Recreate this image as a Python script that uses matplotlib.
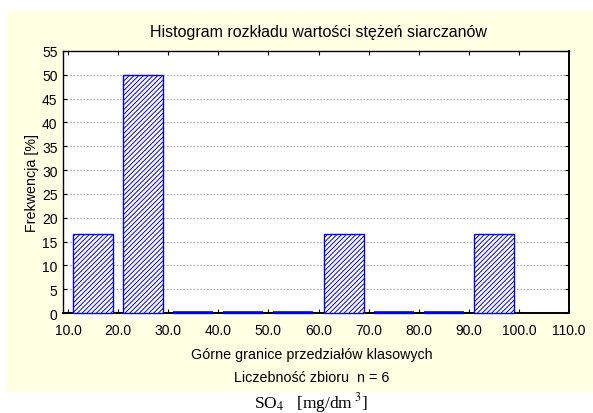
import matplotlib
matplotlib.use("Agg")
import matplotlib.pyplot as plt
from matplotlib.patches import Rectangle
import numpy as np

plt.rcParams['font.family'] = ['Liberation Sans', 'DejaVu Sans']
plt.rcParams['hatch.color'] = '#0000ff'
plt.rcParams['hatch.linewidth'] = 0.7

# data
class_lower = [10, 20, 30, 40, 50, 60, 70, 80, 90]
frequency = [16.67, 50.0, 0.0, 0.0, 0.0, 16.67, 0.0, 0.0, 16.67]
x_tick_values = [10, 20, 30, 40, 50, 60, 70, 80, 90, 100, 110]
x_tick_labels = ["10.0", "20.0", "30.0", "40.0", "50.0", "60.0", "70.0", "80.0", "90.0", "100.0", "110.0"]
y_ticks = list(range(0, 56, 5))

W, H = 593, 414
fig = plt.figure(figsize=(W/100, H/100), dpi=100)
fig.patch.set_facecolor('white')

# yellow panel
fig.patches.append(Rectangle((7/W, 1-393/H), (593-7)/W, (393-11)/H,
                             transform=fig.transFigure, facecolor='#ffffe3',
                             edgecolor='none', zorder=-5))

left, right, top, bottom = 63, 569, 52, 314
ax = fig.add_axes([left/W, 1-bottom/H, (right-left)/W, (bottom-top)/H])
ax.set_zorder(2)
ax.set_facecolor('white')

for s in ax.spines.values():
    s.set_linewidth(1.0)
    s.set_color('black')
    s.set_zorder(2)
ax.spines['right'].set_linewidth(1.4)
ax.spines['bottom'].set_linewidth(1.4)

centers = [c + 5 for c in class_lower]
bars = ax.bar(centers, frequency, width=8, bottom=0, facecolor='white', edgecolor='#0000ff',
              hatch='///////', linewidth=1.0, zorder=4)
for b in bars:
    b.set_clip_on(False)
# zero-frequency classes drawn as thin blue line just above the axis
for c, f in zip(centers, frequency):
    if f == 0:
        ax.plot([c - 4, c + 4], [0.25, 0.25], color='#0000ff', linewidth=1.2,
                solid_capstyle='butt', zorder=5, clip_on=False)

ax.set_xlim(9, 110)
ax.set_ylim(0, 55)
ax.set_yticks(y_ticks)
ax.set_xticks(x_tick_values)
ax.set_xticklabels(x_tick_labels)
ax.tick_params(direction='in', length=3, width=0.8, top=True, right=True,
               labelsize=10, colors='black')
ax.tick_params(axis='x', pad=7)
ax.tick_params(axis='y', pad=4)
for y in y_ticks[1:-1]:
    ax.axhline(y, color='#b0b0b0', linestyle=(0, (1.5, 1.5)), linewidth=0.8, zorder=1)

fig.text(318/W, 1-33/H, "Histogram rozkładu wartości stężeń siarczanów",
         ha='center', va='center', fontsize=11.5)
fig.text(32/W, 1-183/H, "Frekwencja [%]", rotation=90, ha='center', va='center', fontsize=10.3)
fig.text(312/W, 1-355/H, "Górne granice przedziałów klasowych", ha='center', va='center', fontsize=10.3)
fig.text(312/W, 1-378/H, "Liczebność zbioru  n = 6", ha='center', va='center', fontsize=10.3)
fig.text(311/W, 1-408/H, r"SO$_4$   [mg/dm$^{\ 3}$]", ha='center', va='baseline', fontsize=12.5,
         family='Liberation Serif', math_fontfamily='stix')

fig.savefig("out.png", dpi=100, facecolor='white')
